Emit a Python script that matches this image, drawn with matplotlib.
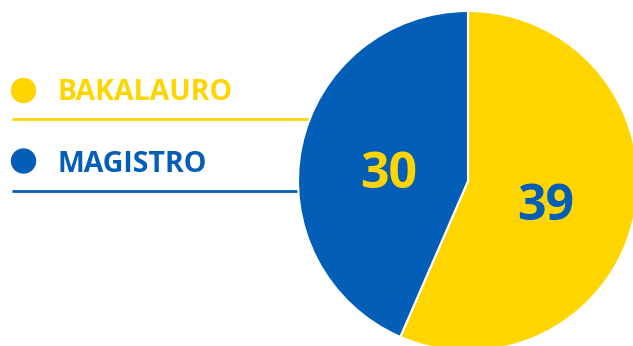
import matplotlib
matplotlib.use("Agg")
import matplotlib.pyplot as plt
from matplotlib.patches import Circle

categories = ["BAKALAURO", "MAGISTRO"]
values = [39, 30]
colors = ["#FFD500", "#035EB8"]
label_colors = ["#035EB8", "#FFD500"]

W, H = 633, 346
fig = plt.figure(figsize=(W / 100, H / 100), dpi=100)
ax = fig.add_axes([0, 0, 1, 1])

font = "Open Sans"

# pie, clockwise from 12 o'clock
cx, cy, r = 468, H - 181, 170
wedges, _, autotexts = ax.pie(
    values, colors=colors, startangle=90, counterclock=False,
    center=(cx, cy), radius=r, frame=True,
    wedgeprops=dict(edgecolor="white", linewidth=1.5, zorder=3),
    autopct=lambda p: f"{round(p * sum(values) / 100):d}", pctdistance=0.47,
)
for t, c in zip(autotexts, label_colors):
    x, y = t.get_position()
    t.set_position((x - 1, y - 10))
    t.set_color(c)
    t.set_fontsize(36)
    t.set_fontweight("bold")
    t.set_fontfamily(font)
    t.set_zorder(5)
ax.set_xlim(0, W)
ax.set_ylim(0, H)
ax.set_aspect("equal")
ax.axis("off")

# legend rows: dot, name, underline
dot_y = [90.5, 161]
text_y = [88.5, 161]
line_y = [119, 191]
for name, col, dy, ty, ly in zip(categories, colors, dot_y, text_y, line_y):
    ax.add_patch(Circle((23.5, H - dy), 12, color=col, zorder=2))
    ax.text(58, H - ty, name, color=col, fontsize=20.5, fontweight="bold",
            fontfamily=font, va="center_baseline", ha="left")
    ax.plot([12, 400], [H - ly, H - ly], color=col, lw=2, zorder=1,
            solid_capstyle="butt")

fig.savefig("out.png", dpi=100)
